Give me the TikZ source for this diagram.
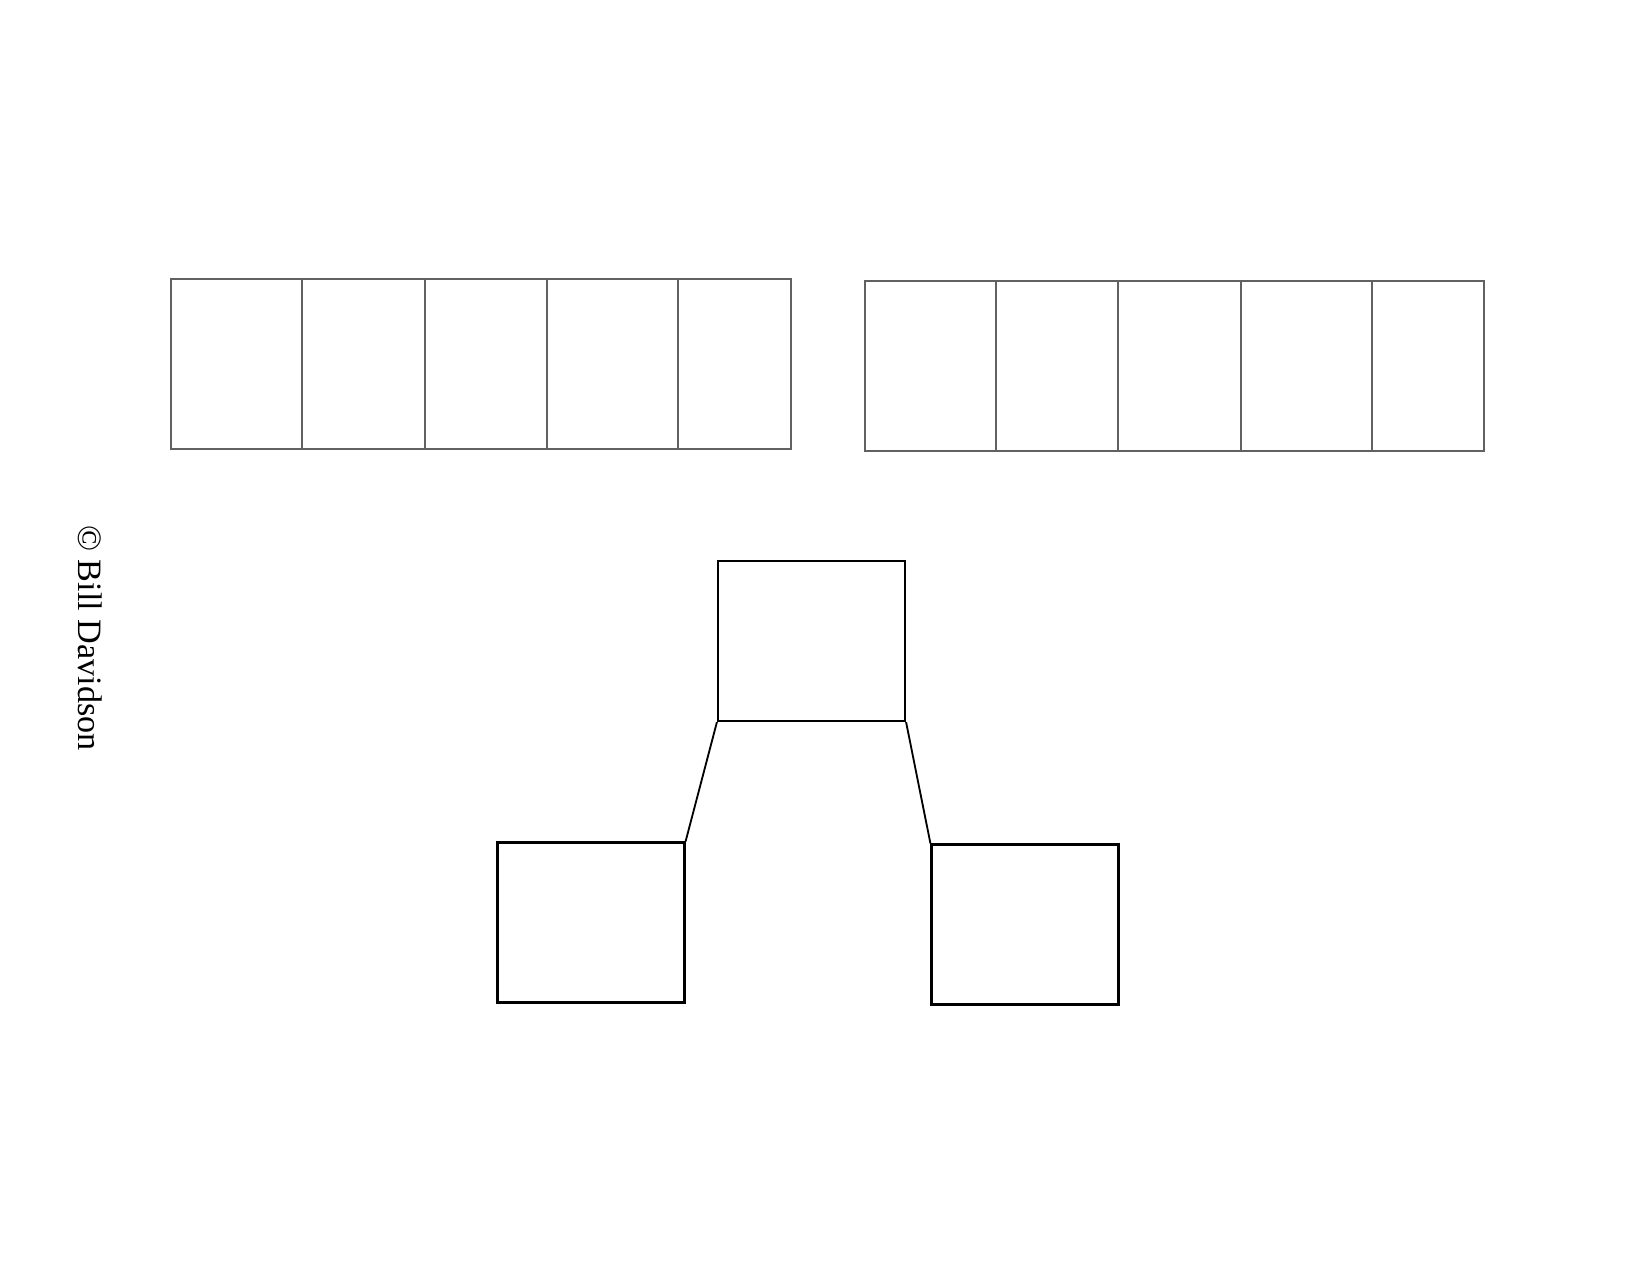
\documentclass[tikz,border=0pt]{standalone}
\usepackage{fontspec}
\setmainfont{Liberation Serif}
\usepackage{tikz}
\usetikzlibrary{positioning}

\begin{document}
\begin{tikzpicture}[x=0.6pt,y=-0.6pt,
	cell/.style={draw=black!62,line width=0.9pt},
	box/.style={draw,line width=1.3pt,inner sep=0pt,minimum width=112.2pt,minimum height=96pt},
	link/.style={line width=1.1pt}]

	\useasboundingbox (0,0) rectangle (1650,1275);

	% tables
	\foreach \a/\b in {171/302,302/425,425/547,547/678,678/791}
		\draw[cell] (\a,279) rectangle (\b,449);
	\foreach \a/\b in {865/996,996/1118,1118/1241,1241/1372,1372/1484}
		\draw[cell] (\a,281) rectangle (\b,451);

	% node definitions
	\node[box]   (top) at (811.5,641) {};
	\node[box]  (left) at (591,922.5) {};
	\node[box] (right) at (1025,924.5) {};

	% connectors
	\draw[link] (top.south west) -- (left.north east);
	\draw[link] (top.south east) -- (right.north west);

	% credit
	\node[rotate=-90,font=\fontsize{20.5}{24}\selectfont] (credit) at (90,638) {© Bill Davidson};

\end{tikzpicture}
\end{document}
